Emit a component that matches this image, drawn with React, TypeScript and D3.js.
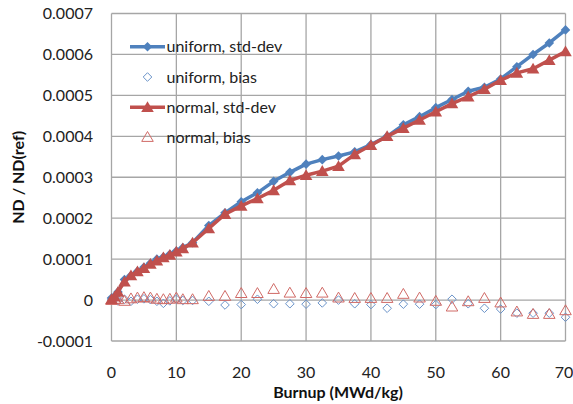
import React from "react";
import * as d3 from "d3";

// Burnup steps (MWd/kg)
const burnup = [
  0, 0.5, 1, 2, 3, 4, 5, 6, 7, 8, 9, 10, 11, 12.5, 15, 17.5, 20, 22.5, 25, 27.5,
  30, 32.5, 35, 37.5, 40, 42.5, 45, 47.5, 50, 52.5, 55, 57.5, 60, 62.5, 65, 67.5, 70,
];

const uniformStd = [
  0.000005, 0.00001, 0.00002, 0.00005, 0.00006, 0.00007, 0.00008, 0.00009, 0.0001,
  0.000105, 0.000112, 0.00012, 0.000128, 0.00014, 0.000182, 0.000213, 0.00024,
  0.000262, 0.00029, 0.000312, 0.000332, 0.000343, 0.000352, 0.000362, 0.00038,
  0.0004, 0.000428, 0.000448, 0.00047, 0.00049, 0.00051, 0.00052, 0.00054,
  0.00057, 0.0006, 0.000628, 0.00066,
];

const uniformBias = [
  0, 0.000003, -0.000002, 0.000002, -0.000003, 0.000002, 0.000003, 0.000001,
  -0.000003, -0.000008, -0.000002, 0.000002, -0.000001, -0.000001, -0.000003,
  -0.000012, -0.000011, 0.000002, -0.000009, -0.000009, -0.00001, -0.000007, 0,
  -0.000009, -0.000011, -0.00002, -0.00001, -0.00001, -0.000011, 0.000002,
  -0.000009, -0.00002, -0.000022, -0.000032, -0.000032, -0.000032, -0.000042,
];

const normalStd = [
  0.000002, 0.000008, 0.00002, 0.000045, 0.00006, 0.00007, 0.000078, 0.000088,
  0.000096, 0.000104, 0.00011, 0.000118, 0.000126, 0.00014, 0.000175, 0.00021,
  0.00023, 0.000248, 0.000268, 0.000292, 0.000305, 0.000315, 0.000327, 0.000356,
  0.000378, 0.0004, 0.00042, 0.00044, 0.00046, 0.00048, 0.000497, 0.000515,
  0.000537, 0.000555, 0.000565, 0.000586, 0.000607,
];

const normalBias = [
  0, 0.000003, 0.000002, -0.000002, 0.000004, 0.000006, 0.000007, 0.000006,
  0.000003, 0.000002, 0.000003, 0.000006, 0.000002, 0.000002, 0.00001, 0.00001,
  0.000017, 0.000017, 0.000027, 0.000018, 0.000017, 0.000018, 0.000006, 0.000005,
  0.000005, 0.000005, 0.000015, 0.000006, -0.000002, -0.000016, -0.000003,
  0.000005, -0.000006, -0.000028, -0.000034, -0.000034, -0.000025,
];

const xTicks = [0, 10, 20, 30, 40, 50, 60, 70];
const yTicks = [-0.0001, 0, 0.0001, 0.0002, 0.0003, 0.0004, 0.0005, 0.0006, 0.0007];

const seriesNames = ["uniform, std-dev", "uniform, bias", "normal, std-dev", "normal, bias"];

const BLUE = "#4F81BD";
const RED = "#C0504D";
const BLUE_LIGHT = "#6A93C9";
const RED_LIGHT = "#D06A66";
const GRID = "#A6A6A6";
const FONT = "Lato, 'Open Sans', sans-serif";

const W = 573;
const H = 404;
const left = 111.5;
const right = 565.5;
const top = 13.5;
const bottom = 341;

const x = d3.scaleLinear().domain([0, 70]).range([left, right]);
const y = d3.scaleLinear().domain([-0.0001, 0.0007]).range([bottom, top]);

const diamond = (cx: number, cy: number, r: number) =>
  `M${cx},${cy - r}L${cx + r},${cy}L${cx},${cy + r}L${cx - r},${cy}Z`;
const triangle = (cx: number, cy: number, r: number) =>
  `M${cx},${cy - r}L${cx + r * 1.05},${cy + r * 0.8}L${cx - r * 1.05},${cy + r * 0.8}Z`;

// plain hyphen for negatives, as in spreadsheet number formats
const fmtTick = (v: number) => (v === 0 ? "0" : d3.format(".4f")(v).replace("\u2212", "-"));

export default function App() {
  const line = d3
    .line<number>()
    .x((_, i) => x(burnup[i]))
    .y((d) => y(d));

  const legendY = [46.7, 77, 107.3, 137];

  return (
    <div style={{ position: "fixed", left: 0, top: 0 }}>
      <svg width={W} height={H} style={{ display: "block", background: "#fff" }}>
        {/* grid */}
        {xTicks.map((t) => (
          <line key={"gx" + t} x1={x(t)} x2={x(t)} y1={top} y2={bottom} stroke={GRID} strokeWidth={1.3} />
        ))}
        {yTicks.map((t) => (
          <line key={"gy" + t} x1={left} x2={right} y1={y(t)} y2={y(t)} stroke={GRID} strokeWidth={1.3} />
        ))}

        {/* tick labels */}
        {yTicks.map((t) => (
          <text key={"ty" + t} x={93} y={y(t)} dy="0.36em" textAnchor="end" fontFamily={FONT} fontSize={16} fill="#222">
            {fmtTick(t)}
          </text>
        ))}
        {xTicks.map((t) => (
          <text
            key={"tx" + t}
            x={Math.min(x(t), W - 9)}
            y={372}
            dy="0.36em"
            textAnchor="middle"
            fontFamily={FONT}
            fontSize={16}
            fill="#222"
          >
            {t}
          </text>
        ))}

        {/* axis titles */}
        <text x={338} y={392} dy="0.36em" textAnchor="middle" fontFamily={FONT} fontSize={16} fontWeight="bold" fill="#111">
          Burnup (MWd/kg)
        </text>
        <text
          transform={`translate(18,${(top + bottom) / 2}) rotate(-90)`}
          dy="0.36em"
          textAnchor="middle"
          fontFamily={FONT}
          fontSize={16}
          fontWeight="bold"
          fill="#111"
        >
          ND / ND(ref)
        </text>

        {/* bias series (open markers) */}
        {uniformBias.map((v, i) => (
          <path key={"ub" + i} d={diamond(x(burnup[i]), y(v), 4.3)} fill="none" stroke={BLUE_LIGHT} strokeWidth={1} />
        ))}
        {normalBias.map((v, i) => (
          <path key={"nb" + i} d={triangle(x(burnup[i]), y(v), 5.5)} fill="none" stroke={RED_LIGHT} strokeWidth={1} />
        ))}

        {/* std-dev series */}
        <path d={line(uniformStd) || ""} fill="none" stroke={BLUE} strokeWidth={3.5} strokeLinejoin="round" />
        {uniformStd.map((v, i) => (
          <path key={"us" + i} d={diamond(x(burnup[i]), y(v), 4.8)} fill={BLUE} />
        ))}
        <path d={line(normalStd) || ""} fill="none" stroke={RED} strokeWidth={3.5} strokeLinejoin="round" />
        {normalStd.map((v, i) => (
          <path key={"ns" + i} d={triangle(x(burnup[i]), y(v), 6)} fill={RED} />
        ))}

        {/* legend */}
        <g>
          <line x1={130} x2={165} y1={legendY[0]} y2={legendY[0]} stroke={BLUE} strokeWidth={3.5} />
          <path d={diamond(147.5, legendY[0], 4.8)} fill={BLUE} />
          <path d={diamond(147.5, legendY[1], 4.3)} fill="none" stroke={BLUE_LIGHT} strokeWidth={1} />
          <line x1={130} x2={165} y1={legendY[2]} y2={legendY[2]} stroke={RED} strokeWidth={3.5} />
          <path d={triangle(147.5, legendY[2], 6)} fill={RED} />
          <path d={triangle(147.5, legendY[3], 5.5)} fill="none" stroke={RED_LIGHT} strokeWidth={1} />
          {seriesNames.map((n, i) => (
            <text key={n} x={166.5} y={legendY[i]} dy="0.36em" fontFamily={FONT} fontSize={16} fill="#222">
              {n}
            </text>
          ))}
        </g>
      </svg>
    </div>
  );
}
